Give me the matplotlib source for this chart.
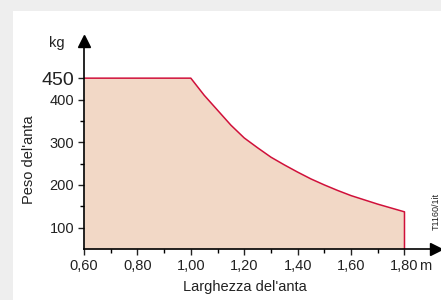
import matplotlib.pyplot as plt
from matplotlib.patches import Rectangle

plt.rcParams['font.family'] = ['Liberation Sans', 'DejaVu Sans']

# larghezza anta (m) vs peso massimo (kg)
larghezza = [0.60, 1.00, 1.05, 1.10, 1.15, 1.20, 1.25, 1.30, 1.35, 1.40,
             1.45, 1.50, 1.55, 1.60, 1.65, 1.70, 1.75, 1.80]
peso = [450, 450, 410, 375, 340, 310, 287, 265, 247, 230,
        214, 200, 187, 175, 165, 155, 146, 137]

x_ticks = [0.60, 0.80, 1.00, 1.20, 1.40, 1.60, 1.80]
x_labels = ['0,60', '0,80', '1,00', '1,20', '1,40', '1,60', '1,80']
x_minor = [0.70, 0.90, 1.10, 1.30, 1.50, 1.70]
y_ticks = [100, 200, 300, 400, 450]
y_minor = [150, 250, 350]

line_col = '#d0103a'
fill_col = '#f2d8c6'
txt_col = '#222222'

fig = plt.figure(figsize=(4.41, 3.00), dpi=100)
fig.patch.set_facecolor('#eeeeee')
fig.patches.append(Rectangle((13 / 441, 0), 1, 289 / 300, transform=fig.transFigure,
                             facecolor='white', edgecolor='none', zorder=0))

# axes box: x spine from px 84 to 436, y spine from px 249 up to 41
ax = fig.add_axes([84 / 441, 51 / 300, 352 / 441, 208 / 300])
ax.set_zorder(2)
ax.set_facecolor('none')
ymin = 50
ax.set_xlim(0.60, 1.918)
ax.set_ylim(ymin, 537)

ax.fill_between(larghezza, peso, ymin, color=fill_col, lw=0)
ax.plot(larghezza + [larghezza[-1]], peso + [ymin], color=line_col, lw=1.1)

# axes with arrow heads
for s in ['top', 'right']:
    ax.spines[s].set_visible(False)
ax.spines['left'].set_linewidth(1.2)
ax.spines['bottom'].set_linewidth(1.2)
ax.plot(1, 0, '>k', ms=8, transform=ax.transAxes, clip_on=False)
ax.plot(0, 1, '^k', ms=8, transform=ax.transAxes, clip_on=False)

ax.set_xticks(x_ticks)
ax.set_xticklabels(x_labels)
ax.set_xticks(x_minor, minor=True)
ax.set_yticks(y_ticks)
ax.set_yticklabels([str(v) for v in y_ticks])
ax.set_yticks(y_minor, minor=True)
ax.tick_params(which='major', length=4, width=1, labelsize=10.5, colors=txt_col, pad=3)
ax.tick_params(which='minor', length=3, width=1)
ax.get_yticklabels()[-1].set_fontsize(14)

ax.text(1.853, (249 - 270) / 208, 'm', transform=ax.get_xaxis_transform(),
        ha='left', va='baseline', fontsize=10.5, color=txt_col)
ax.text(-27 / 352, (249 - 43) / 208, 'kg', transform=ax.transAxes, ha='center',
        va='center', fontsize=10.5, color=txt_col)

ax.set_xlabel("Larghezza del'anta", fontsize=10.5, color=txt_col)
ax.xaxis.set_label_coords((245 - 84) / 352, -0.15)
ax.set_ylabel("Peso del'anta", fontsize=10.5, color=txt_col)
ax.yaxis.set_label_coords(-48 / 352, (249 - 160) / 208)

fig.text(436 / 441, (300 - 211) / 300, 'T1160/1it', rotation=90, fontsize=6.5,
         ha='center', va='center', color=txt_col)

fig.savefig('out.png', dpi=100, facecolor=fig.get_facecolor())
